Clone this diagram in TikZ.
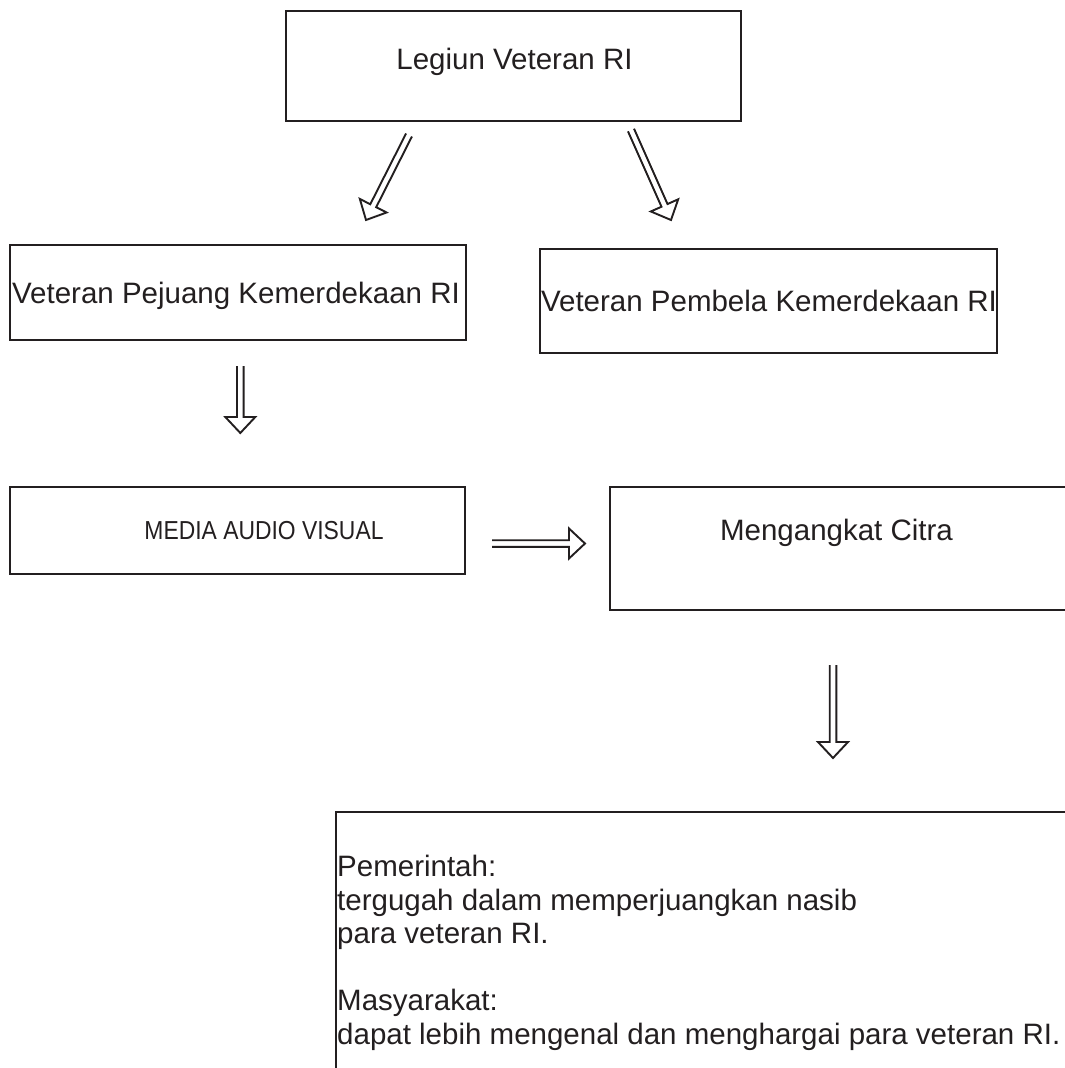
\documentclass[tikz,border=0pt]{standalone}
\usepackage{fontspec}
\setmainfont{Liberation Sans}
\usetikzlibrary{calc}
\definecolor{ink}{HTML}{231F20}
\tikzset{
  box/.style={draw=ink, line width=2.2pt, rectangle, inner sep=0pt},
  txt/.style={text=ink, inner sep=0pt, font=\fontsize{29.5}{33.5}\selectfont, text height=21pt, text depth=0pt},
  stxt/.style={text=ink, inner sep=0pt, font=\fontsize{26}{30}\selectfont, text height=18.6pt, text depth=0pt},
  ltxt/.style={text=ink, inner sep=0pt, font=\fontsize{29.5}{33.5}\selectfont, anchor=base west},
  arrowline/.style={draw=ink, line width=1.9pt, line join=miter, fill=white}
}
\newcommand\darrow[2]{%
  \coordinate (db) at ($(#2)!16pt!(#1)$);
  \draw[arrowline] ($(#1)!3.3pt!90:(#2)$) -- ($(db)!3.3pt!-90:(#1)$) -- ($(db)!15pt!-90:(#1)$) -- (#2) -- ($(db)!15pt!90:(#1)$) -- ($(db)!3.3pt!90:(#1)$) -- ($(#1)!3.3pt!-90:(#2)$);
}
\begin{document}
\begin{tikzpicture}[x=1pt,y=-1pt]
\useasboundingbox (0,0) rectangle (1065,1068);
\clip (0,0) rectangle (1065,1068);
\fill[white] (0,0) rectangle (1065,1068);

% boxes
\node[box, minimum width=455pt, minimum height=110pt] (legiun) at (513.5,66) {};
\node[box, minimum width=456pt, minimum height=95pt] (pejuang) at (238,292.5) {};
\node[box, minimum width=457pt, minimum height=104pt] (pembela) at (768.5,301) {};
\node[box, minimum width=455pt, minimum height=87pt] (media) at (237.5,530.5) {};
\node[box, minimum width=480pt, minimum height=123pt] (citra) at (850,548.5) {};
\node[box, minimum width=760pt, minimum height=300pt] (hasil) at (716,962) {};

% texts
\node[txt] (t1) at (514.5,59) {Legiun Veteran RI};
\node[txt] (t2) at (236,293) {Veteran Pejuang Kemerdekaan RI};
\node[txt] (t3) at (769,301) {Veteran Pembela Kemerdekaan RI};
\node[stxt] (t4) at (264,530) {\scalebox{0.88}[1]{MEDIA AUDIO VISUAL}};
\node[txt] (t5) at (836.5,530) {Mengangkat Citra};

\node[ltxt] (l1) at (337,876.5) {Pemerintah:};
\node[ltxt] (l2) at (337,910) {tergugah dalam memperjuangkan nasib};
\node[ltxt] (l3) at (337,943.5) {para veteran RI.};
\node[ltxt] (l4) at (337,1010.5) {Masyarakat:};
\node[ltxt] (l5) at (337,1044) {dapat lebih mengenal dan menghargai para veteran RI.};

% arrows
\coordinate (a1s) at (409,135);
\coordinate (a1e) at (366,220);
\coordinate (a2s) at (631,130);
\coordinate (a2e) at (671,220);
\coordinate (a3s) at (240.3,366);
\coordinate (a3e) at (240.3,433);
\coordinate (a4s) at (492,543.5);
\coordinate (a4e) at (585,543.5);
\coordinate (a5s) at (833,665);
\coordinate (a5e) at (833,758);
\darrow{a1s}{a1e}
\darrow{a2s}{a2e}
\darrow{a3s}{a3e}
\darrow{a4s}{a4e}
\darrow{a5s}{a5e}
\end{tikzpicture}
\end{document}
